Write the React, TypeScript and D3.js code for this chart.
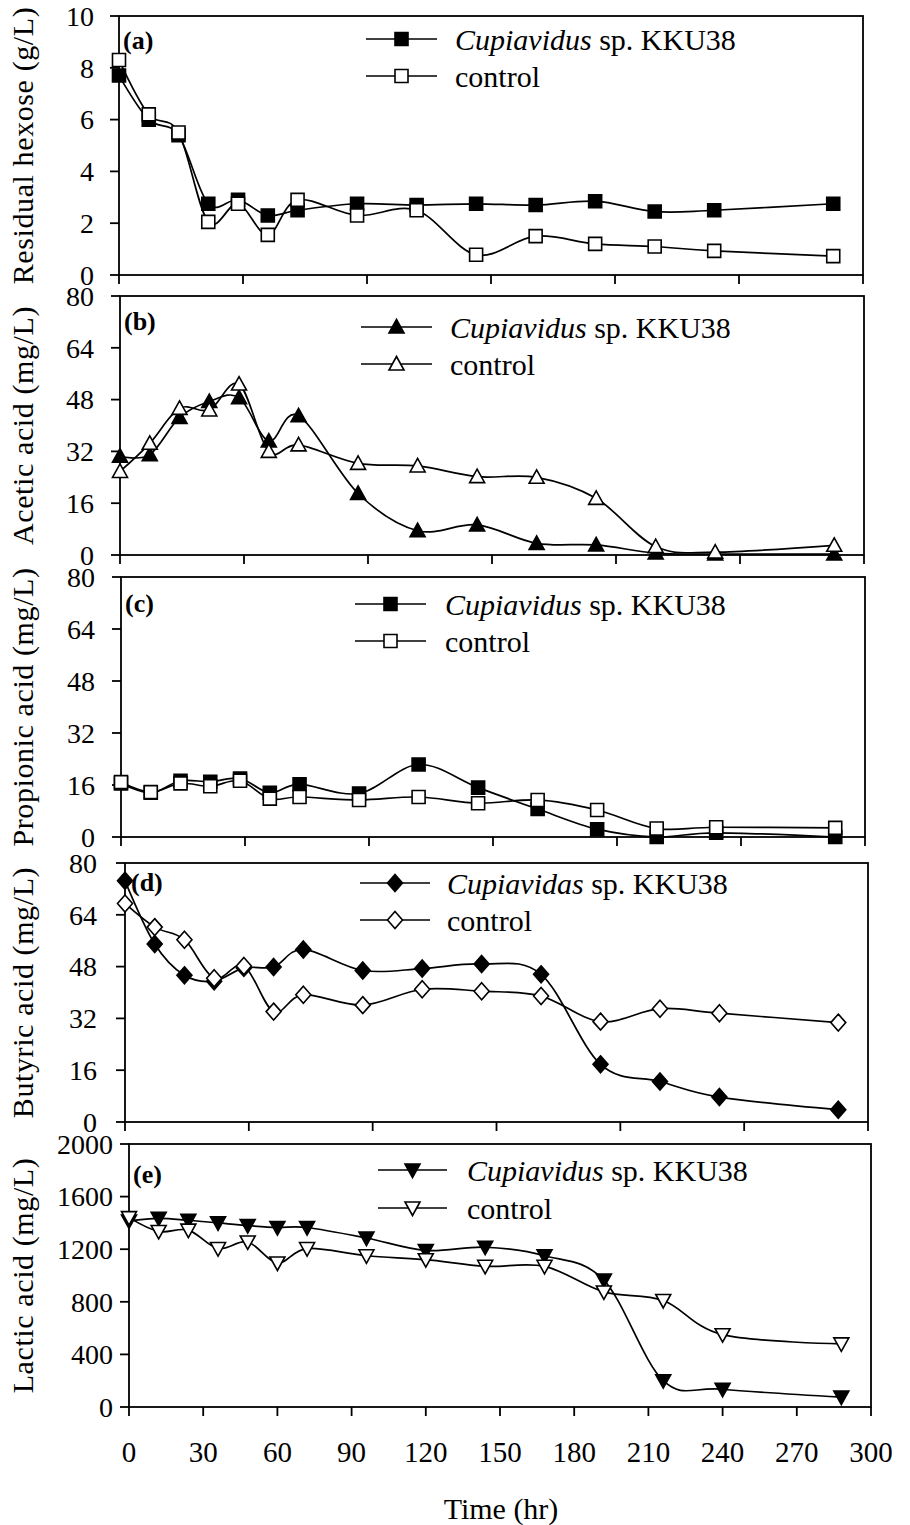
import React from "react";
import * as d3 from "d3";

// sampling times (hr)
const hours = [0, 12, 24, 36, 48, 60, 72, 96, 120, 144, 168, 192, 216, 240, 288];

// (a) residual hexose, g/L
const hexoseKKU = [7.7, 6.0, 5.4, 2.75, 2.9, 2.3, 2.5, 2.75, 2.7, 2.75, 2.7, 2.85, 2.45, 2.5, 2.75];
const hexoseCtrl = [8.3, 6.2, 5.5, 2.05, 2.75, 1.55, 2.9, 2.3, 2.5, 0.78, 1.5, 1.2, 1.1, 0.93, 0.73];

// (b) acetic acid, mg/L
const aceticKKU = [30.5, 31, 42.5, 47.4, 48.6, 35.2, 43, 19, 7.5, 9.3, 3.6, 3.1, 0.6, 0.3, 0.3];
const aceticCtrl = [25.8, 34.5, 45.3, 44.8, 52.8, 32, 34, 28.3, 27.5, 24.2, 24, 17.5, 2.6, 0.9, 3.0];

// (c) propionic acid, mg/L
const propKKU = [16.5, 13.6, 17.3, 17, 18, 13.6, 16.2, 13.4, 22.3, 15.2, 8.6, 2.4, 0, 1.3, 0];
const propCtrl = [16.9, 13.8, 16.5, 15.6, 17.3, 11.8, 12.3, 11.4, 12.3, 10.4, 11.4, 8.3, 2.6, 3.0, 2.8];

// (d) butyric acid, mg/L
const butyKKU = [74.5, 55, 45.3, 43.5, 47.6, 47.9, 53.3, 46.8, 47.4, 48.8, 45.6, 17.8, 12.5, 7.7, 3.8];
const butyCtrl = [67.5, 60.2, 56.3, 44.4, 48.2, 34.1, 39.3, 36.1, 41, 40.4, 38.9, 31, 35, 33.6, 30.7];

// (e) lactic acid, mg/L
const lacticKKU = [1415, 1435, 1420, 1400, 1380, 1365, 1365, 1285, 1190, 1215, 1150, 965, 200, 135, 75];
const lacticCtrl = [1440, 1335, 1345, 1205, 1255, 1095, 1205, 1150, 1120, 1070, 1070, 875, 810, 550, 480];

const timeTicksTop = [0, 50, 100, 150, 200, 250, 300];
const timeTicksBottom = [0, 30, 60, 90, 120, 150, 180, 210, 240, 270, 300];

const FONT = "'Liberation Serif', 'Times New Roman', serif";

type Shape = "square" | "triangle" | "triangleDown" | "diamond";

const panels = [
  {
    label: "(a)", title: "Residual hexose (g/L)", yMax: 10, yTicks: d3.range(0, 11, 2),
    kku: hexoseKKU, ctrl: hexoseCtrl, shape: "square" as Shape, name: "Cupiavidus",
    box: { l: 119, r: 863, t: 16, b: 275 }, tickX: 94, lab: [123, 40],
    leg: { x1: 366, x2: 437, tx: 455, y1: 39, y2: 76 },
  },
  {
    label: "(b)", title: "Acetic acid (mg/L)", yMax: 80, yTicks: d3.range(0, 81, 16),
    kku: aceticKKU, ctrl: aceticCtrl, shape: "triangle" as Shape, name: "Cupiavidus",
    box: { l: 120, r: 864, t: 296, b: 555 }, tickX: 94, lab: [124, 321],
    leg: { x1: 361, x2: 432, tx: 450, y1: 327, y2: 364 },
  },
  {
    label: "(c)", title: "Propionic acid (mg/L)", yMax: 80, yTicks: d3.range(0, 81, 16),
    kku: propKKU, ctrl: propCtrl, shape: "square" as Shape, name: "Cupiavidus",
    box: { l: 121, r: 865, t: 577, b: 837 }, tickX: 95, lab: [125, 603],
    leg: { x1: 355, x2: 426, tx: 445, y1: 604, y2: 641 },
  },
  {
    label: "(d)", title: "Butyric acid (mg/L)", yMax: 80, yTicks: d3.range(0, 81, 16),
    kku: butyKKU, ctrl: butyCtrl, shape: "diamond" as Shape, name: "Cupiavidas",
    box: { l: 125, r: 868, t: 863, b: 1122 }, tickX: 97, lab: [131, 882],
    leg: { x1: 360, x2: 430, tx: 447, y1: 883, y2: 920 },
  },
  {
    label: "(e)", title: "Lactic acid (mg/L)", yMax: 2000, yTicks: d3.range(0, 2001, 400),
    kku: lacticKKU, ctrl: lacticCtrl, shape: "triangleDown" as Shape, name: "Cupiavidus",
    box: { l: 129, r: 871, t: 1144, b: 1407 }, tickX: 113, lab: [133, 1174],
    leg: { x1: 378, x2: 447, tx: 467, y1: 1170, y2: 1208 },
  },
];

function markerPath(shape: Shape): string {
  if (shape === "square") return "M-6.5,-6.5H6.5V6.5H-6.5Z";
  if (shape === "triangle") return "M0,-7.5L7.5,6L-7.5,6Z";
  if (shape === "triangleDown") return "M0,7.5L7.5,-6L-7.5,-6Z";
  return "M0,-8.5L7.5,0L0,8.5L-7.5,0Z";
}

function Marker({ x, y, shape, filled }: { x: number; y: number; shape: Shape; filled: boolean }) {
  return (
    <path
      d={markerPath(shape)}
      transform={`translate(${x},${y})`}
      fill={filled ? "#000" : "#fff"}
      stroke="#000"
      strokeWidth={1.6}
    />
  );
}

function Panel({ p, bottom }: { p: (typeof panels)[number]; bottom: boolean }) {
  const { l, r, t, b } = p.box;
  const x = d3.scaleLinear().domain([0, 300]).range([l, r]);
  const y = d3.scaleLinear().domain([0, p.yMax]).range([b, t]);
  const line = d3
    .line<number>()
    .x((_, i) => x(hours[i]))
    .y((v) => y(v))
    .curve(d3.curveCardinal.tension(0));
  const xTicks = bottom ? timeTicksBottom : timeTicksTop;
  return (
    <g>
      <rect x={l} y={t} width={r - l} height={b - t} fill="none" stroke="#000" strokeWidth={1.8} />
      {p.yTicks.map((v) => (
        <g key={"y" + v}>
          <line x1={l - 9} x2={l} y1={y(v)} y2={y(v)} stroke="#000" strokeWidth={1.8} />
          <text x={p.tickX} y={y(v)} dy="0.35em" textAnchor="end" fontSize={28} fontFamily={FONT}>
            {v}
          </text>
        </g>
      ))}
      {xTicks.map((v) => (
        <g key={"x" + v}>
          <line x1={x(v)} x2={x(v)} y1={b} y2={b + 9} stroke="#000" strokeWidth={1.8} />
          {bottom && (
            <text x={x(v)} y={b + 55} textAnchor="middle" fontSize={29} fontFamily={FONT}>
              {v}
            </text>
          )}
        </g>
      ))}
      <text
        transform={`translate(33,${(t + b) / 2}) rotate(-90)`}
        textAnchor="middle"
        fontSize={30}
        fontFamily={FONT}
        letterSpacing={0.6}
      >
        {p.title}
      </text>
      <text x={p.lab[0]} y={p.lab[1]} dy="0.35em" fontSize={26} fontWeight="bold" fontFamily={FONT}>
        {p.label}
      </text>

      <path d={line(p.kku) || ""} fill="none" stroke="#000" strokeWidth={1.7} />
      <path d={line(p.ctrl) || ""} fill="none" stroke="#000" strokeWidth={1.7} />
      {p.kku.map((v, i) => (
        <Marker key={"k" + i} x={x(hours[i])} y={y(v)} shape={p.shape} filled />
      ))}
      {p.ctrl.map((v, i) => (
        <Marker key={"c" + i} x={x(hours[i])} y={y(v)} shape={p.shape} filled={false} />
      ))}

      {/* legend */}
      <line x1={p.leg.x1} x2={p.leg.x2} y1={p.leg.y1} y2={p.leg.y1} stroke="#000" strokeWidth={1.7} />
      <Marker x={(p.leg.x1 + p.leg.x2) / 2} y={p.leg.y1} shape={p.shape} filled />
      <text x={p.leg.tx} y={p.leg.y1} dy="0.35em" fontSize={30} fontFamily={FONT}>
        <tspan fontStyle="italic">{p.name}</tspan> sp. KKU38
      </text>
      <line x1={p.leg.x1} x2={p.leg.x2} y1={p.leg.y2} y2={p.leg.y2} stroke="#000" strokeWidth={1.7} />
      <Marker x={(p.leg.x1 + p.leg.x2) / 2} y={p.leg.y2} shape={p.shape} filled={false} />
      <text x={p.leg.tx} y={p.leg.y2} dy="0.35em" fontSize={30} fontFamily={FONT}>
        control
      </text>
    </g>
  );
}

export default function App() {
  return (
    <svg
      width={910}
      height={1525}
      style={{ position: "absolute", left: 0, top: 0, background: "#fff" }}
    >
      <rect width={910} height={1525} fill="#fff" />
      {panels.map((p, i) => (
        <Panel key={p.label} p={p} bottom={i === panels.length - 1} />
      ))}
      <text x={501} y={1519} textAnchor="middle" fontSize={30} fontFamily={FONT}>
        Time (hr)
      </text>
    </svg>
  );
}
